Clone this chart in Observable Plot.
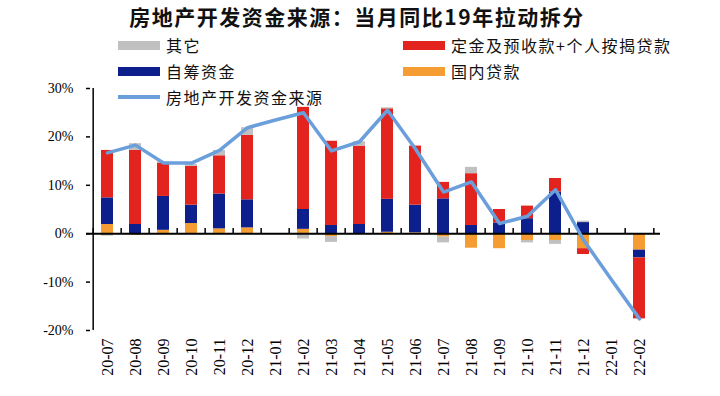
<!DOCTYPE html>
<html><head><meta charset="utf-8">
<script src="https://cdn.jsdelivr.net/npm/d3@7"></script>
<script src="https://cdn.jsdelivr.net/npm/@observablehq/plot@0.6"></script>
<style>
body{margin:0;background:#fff;}
#wrap{position:relative;width:720px;height:396px;overflow:hidden;}
#title{position:absolute;left:0;top:3px;width:714px;text-align:center;font-family:"Noto Sans CJK SC",sans-serif;font-weight:bold;font-size:21px;letter-spacing:1.5px;line-height:26px;color:#111;}
.leg{position:absolute;display:flex;align-items:center;font-family:"Noto Sans CJK SC",sans-serif;font-size:16px;letter-spacing:1.5px;color:#111;line-height:20px;}
.sw{width:42px;height:9px;margin-right:6px;}
.ln{width:42px;height:4px;margin-right:6px;}
#chart{position:absolute;left:0;top:0;}
</style></head>
<body><div id="wrap"><div id="chart"></div><div id="title"></div><div id="legend"></div></div>
<script>
const titleText = "房地产开发资金来源：当月同比19年拉动拆分";
const months = ["20-07","20-08","20-09","20-10","20-11","20-12","21-01","21-02","21-03","21-04","21-05","21-06","21-07","21-08","21-09","21-10","21-11","21-12","22-01","22-02"];
const seriesNames = ["国内贷款","自筹资金","定金及预收款+个人按揭贷款","其它"];
const seriesColors = ["#f59d33","#0d1f8c","#e3231d","#c0c0c0"];
const lineName = "房地产开发资金来源";
const lineColor = "#6b9fdb";
// segment contributions (percentage points)
const domesticLoans = [1.9,-0.3,0.7,2.1,1.0,1.2,null,0.9,-0.6,0,0.3,0.2,-0.7,-3.0,-3.1,-1.4,-1.4,-3.1,null,-3.4];
const selfRaised    = [5.5,1.9,7.0,3.8,7.2,5.8,null,4.1,1.7,1.9,6.8,5.7,7.2,1.7,2.2,3.1,8.6,2.3,null,-1.6];
const depositsMortg = [9.8,15.3,6.9,8.0,7.9,13.3,null,21.1,17.4,16.2,18.7,12.2,3.4,10.7,2.8,2.6,2.8,-1.2,null,-12.6];
const others        = [-0.5,1.4,0.2,0.4,1.1,1.6,null,-1.1,-1.2,0.9,0.2,0,-1.2,1.3,0,-0.5,-0.8,0.3,null,0];
const totalGrowth   = [16.7,18.3,14.6,14.6,17.2,21.9,23.5,25.0,17.1,19.0,25.5,17.5,8.6,10.7,2.1,3.6,9.1,-1.3,-9.5,-17.6];
const yTicks = [-20,-10,0,10,20,30];

const seriesValues = [domesticLoans, selfRaised, depositsMortg, others];
const rows = [];
seriesNames.forEach((s, k) => months.forEach((m, i) => {
  const v = seriesValues[k][i];
  if (v !== null && v !== 0) rows.push({month: m, series: s, value: v});
}));
const lineRows = months.map((m, i) => ({month: m, value: totalGrowth[i]}));

document.getElementById("title").textContent = titleText;

const chart = Plot.plot({
  width: 720, height: 396,
  marginTop: 88, marginBottom: 66, marginLeft: 86, marginRight: 60,
  style: {fontFamily: "'Liberation Serif', 'Times New Roman', serif", fontSize: "14px", color: "#000", background: "transparent"},
  x: {domain: months, paddingInner: 0.58, paddingOuter: 0.29, label: null},
  y: {domain: [-20, 30], label: null},
  color: {domain: seriesNames, range: seriesColors},
  marks: [
    Plot.barY(rows, {x: "month", y: "value", fill: "series", order: seriesNames}),
    Plot.ruleY([0], {stroke: "#000", strokeWidth: 2}),
    Plot.ruleX(months, {x: d => d, y1: 0, y2: 1.1, dx: -14.33, stroke: "#000", strokeWidth: 1.5}),
    Plot.ruleX(months.slice(-1), {x: d => d, y1: 0, y2: 1.1, dx: 14.33, stroke: "#000", strokeWidth: 1.5}),
    Plot.line(lineRows, {x: "month", y: "value", stroke: lineColor, strokeWidth: 3.5, strokeLinejoin: "round"}),
    Plot.axisY({ticks: yTicks, tickFormat: d => d + "%", tickSize: 0, tickPadding: 13, label: null, fontSize: 14}),
    Plot.axisY({ticks: yTicks, tickSize: -4, text: null, label: null, strokeWidth: 1.5}),
    Plot.ruleX([months[0]], {x: d => d, dx: -14.33, stroke: "#000", strokeWidth: 1.5}),
    Plot.axisX({tickRotate: -90, tickSize: 0, tickPadding: 8, fontSize: 16, label: null, style: {letterSpacing: "2px"}})
  ]
});
document.getElementById("chart").appendChild(chart);

// legend
const legendItems = [
  {name: seriesNames[3], color: seriesColors[3], left: 118, top: 35, kind: "sw"},
  {name: seriesNames[2], color: seriesColors[2], left: 403, top: 35, kind: "sw"},
  {name: seriesNames[1], color: seriesColors[1], left: 118, top: 61, kind: "sw"},
  {name: seriesNames[0], color: seriesColors[0], left: 403, top: 61, kind: "sw"},
  {name: lineName, color: lineColor, left: 118, top: 87, kind: "ln"}
];
const leg = document.getElementById("legend");
legendItems.forEach(it => {
  const d = document.createElement("div");
  d.className = "leg";
  d.style.left = it.left + "px";
  d.style.top = it.top + "px";
  const s = document.createElement("span");
  s.className = it.kind;
  s.style.background = it.color;
  const t = document.createElement("span");
  t.textContent = it.name;
  d.appendChild(s); d.appendChild(t);
  leg.appendChild(d);
});
</script></body></html>
